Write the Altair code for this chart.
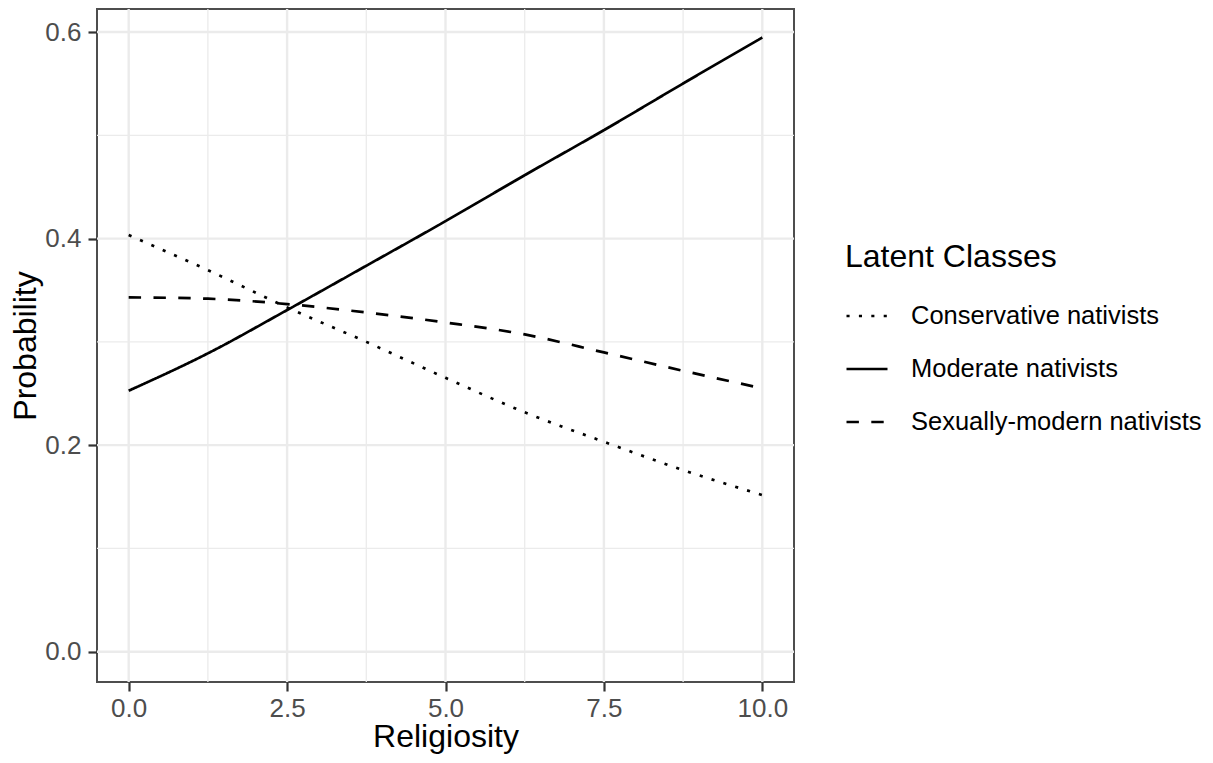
import altair as alt
import pandas as pd

# ---- data ----
religiosity = [0, 1.25, 2.5, 3.75, 5, 6.25, 7.5, 8.75, 10]
conservative = [0.4034, 0.3695, 0.3334, 0.3000, 0.2652, 0.2318, 0.2033, 0.1759, 0.1517]
moderate = [0.2527, 0.2889, 0.3308, 0.3737, 0.4169, 0.4614, 0.5050, 0.5502, 0.5947]
sexually_modern = [0.3431, 0.3418, 0.3366, 0.3285, 0.3188, 0.3072, 0.2898, 0.2720, 0.2550]
classes = ["Conservative nativists", "Moderate nativists", "Sexually-modern nativists"]

x_major = [0, 2.5, 5, 7.5, 10]
x_minor = [1.25, 3.75, 6.25, 8.75]
y_major = [0, 0.2, 0.4, 0.6]
y_minor = [0.1, 0.3, 0.5]

rows = []
for name, ys in zip(classes, [conservative, moderate, sexually_modern]):
    for xv, yv in zip(religiosity, ys):
        rows.append({"Religiosity": xv, "Probability": yv, "Class": name})
df = pd.DataFrame(rows)

FONT = "Liberation Sans"
xscale = alt.Scale(domain=[-0.5, 10.5], nice=False, zero=False)
yscale = alt.Scale(domain=[-0.0293, 0.6223], nice=False, zero=False)

xaxis = alt.Axis(values=x_major, format=".1f", title="Religiosity", grid=False,
                 labelFlush=False, labelOverlap=False, labelPadding=4,
                 titleBaseline="alphabetic", titleY=64)
yaxis = alt.Axis(values=y_major, format=".1f", title="Probability", grid=False,
                 labelFlush=False, labelOverlap=False,
                 titleBaseline="alphabetic", titleX=-62)

def xenc():
    return alt.X("Religiosity:Q", scale=xscale, axis=xaxis)

def yenc():
    return alt.Y("Probability:Q", scale=yscale, axis=yaxis)

GRID = "#EBEBEB"
vmaj = alt.Chart(pd.DataFrame({"Religiosity": x_major})).mark_rule(
    color=GRID, strokeWidth=2.4).encode(x=xenc())
vmin = alt.Chart(pd.DataFrame({"Religiosity": x_minor})).mark_rule(
    color=GRID, strokeWidth=1.3).encode(x=xenc())
hmaj = alt.Chart(pd.DataFrame({"Probability": y_major})).mark_rule(
    color=GRID, strokeWidth=2.4).encode(y=yenc())
hmin = alt.Chart(pd.DataFrame({"Probability": y_minor})).mark_rule(
    color=GRID, strokeWidth=1.3).encode(y=yenc())

lines = alt.Chart(df).mark_line(color="black", strokeWidth=2.7, interpolate="monotone",
                                strokeCap="butt").encode(
    x=xenc(),
    y=yenc(),
    strokeDash=alt.StrokeDash(
        "Class:N",
        scale=alt.Scale(domain=classes, range=[[3.1, 9.3], [1, 0], [12.4, 12.4]]),
        legend=alt.Legend(
            title="Latent Classes", orient="none", legendX=748, legendY=233,
            symbolType="stroke", symbolSize=1681, symbolStrokeWidth=2.7,
            symbolStrokeColor="black", labelOffset=22, rowPadding=17,
            titlePadding=20, labelLimit=500, titleLimit=500,
        ),
    ),
    detail="Class:N",
)

chart = alt.layer(vmin, vmaj, hmin, hmaj, lines).properties(
    width=697, height=673,
    autosize=alt.AutoSizeParams(type="none"),
    padding={"left": 89, "top": 1, "right": 411, "bottom": 73},
).configure_view(
    stroke="#4d4d4d", strokeWidth=2
).configure_axis(
    domain=False, tickColor="#333333", tickWidth=2.2, tickSize=9,
    labelFont=FONT, labelFontSize=26, labelColor="#4D4D4D", labelPadding=7,
    titleFont=FONT, titleFontSize=32, titleFontWeight="normal", titleColor="black",
).configure_legend(
    titleFont=FONT, titleFontSize=32, titleFontWeight="normal", titleColor="black",
    labelFont=FONT, labelFontSize=25.5, labelColor="black", padding=0,
)

chart.save("out.html", embed_options={"renderer": "svg", "actions": False})
